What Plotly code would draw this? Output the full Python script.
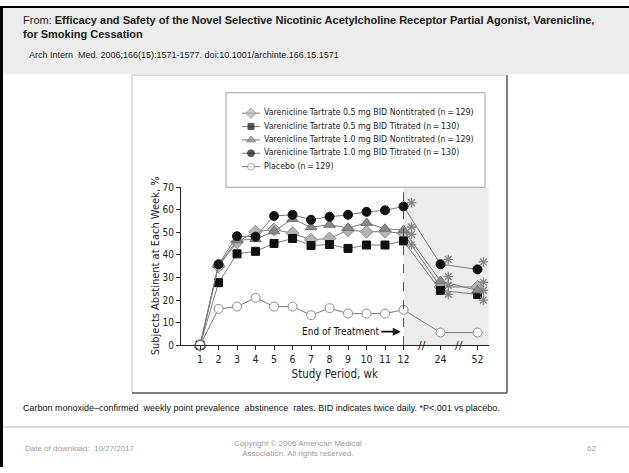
import plotly.graph_objects as go

# ---------------- data ----------------
weeks = ["1", "2", "3", "4", "5", "6", "7", "8", "9", "10", "11", "12", "24", "52"]
axis_categories = ["1", "2", "3", "4", "5", "6", "7", "8", "9", "10", "11", "12", " ", "24", "  ", "52"]
sig_weeks = ["12", "24", "52"]

v05_nontitrated = [0, 35.0, 45.7, 50.3, 51.3, 49.6, 46.7, 47.3, 51.0, 50.3, 50.3, 49.6, 25.8, 25.8]
v05_titrated = [0, 27.7, 40.5, 41.6, 45.1, 47.3, 44.2, 44.6, 42.9, 44.4, 44.4, 46.2, 24.3, 22.5]
v10_nontitrated = [0, 35.5, 46.5, 47.0, 50.5, 55.9, 52.3, 53.4, 52.0, 54.2, 51.6, 51.0, 28.4, 24.3]
v10_titrated = [0, 35.9, 48.3, 48.1, 57.3, 57.8, 55.6, 56.9, 57.8, 59.1, 59.8, 61.5, 35.9, 33.6]
placebo = [0, 16.1, 17.1, 21.0, 17.1, 17.1, 13.3, 16.4, 14.0, 14.0, 14.0, 15.7, 5.6, 5.6]

# heights (in % units) at which the "*P<.001" asterisks sit beside weeks 12, 24, 52
sig_v05_nontitrated = [49.1, 26.5, 27.9]
sig_v05_titrated = [44.5, 22.5, 20.0]
sig_v10_nontitrated = [52.4, 30.4, 24.3]
sig_v10_titrated = [63.2, 38.0, 36.9]

series_names = [
    "Varenicline Tartrate 0.5 mg BID Nontitrated (n\u2009=\u2009129)",
    "Varenicline Tartrate 0.5 mg BID Titrated (n\u2009=\u2009130)",
    "Varenicline Tartrate 1.0 mg BID Nontitrated (n\u2009=\u2009129)",
    "Varenicline Tartrate 1.0 mg BID Titrated (n\u2009=\u2009130)",
    "Placebo (n\u2009=\u2009129)",
]
y_ticks = [0, 10, 20, 30, 40, 50, 60, 70]

# ---------------- style ----------------
W, H = 629, 473
FONT = "Liberation Sans Narrow, DejaVu Sans Condensed, Arial Narrow, sans-serif"
SANS = "Liberation Sans, Arial, sans-serif"
LINE = "#7a7a7a"
STAR = "#858585"
X_RANGE = [-1.03, 15.6]


def px(x):
    return x / W


def py(y):
    return 1 - y / H


styles = [
    dict(symbol="diamond", size=10, color="#b4b4b4", lc="#8c8c8c"),
    dict(symbol="square", size=8, color="#111111", lc="#111111"),
    dict(symbol="triangle-up", size=10, color="#8a8a8a", lc="#6e6e6e"),
    dict(symbol="circle", size=9, color="#111111", lc="#111111"),
    dict(symbol="circle", size=9, color="#ffffff", lc="#8c8c8c"),
]
all_series = [v05_nontitrated, v05_titrated, v10_nontitrated, v10_titrated, placebo]
all_sig = [sig_v05_nontitrated, sig_v05_titrated, sig_v10_nontitrated, sig_v10_titrated]

fig = go.Figure()
for name, vals, st in zip(series_names, all_series, styles):
    fig.add_trace(go.Scatter(
        x=weeks, y=vals, name=name, mode="lines+markers", showlegend=False,
        line=dict(color=LINE, width=1),
        marker=dict(symbol=st["symbol"], size=st["size"], color=st["color"],
                    line=dict(color=st["lc"], width=1)),
        cliponaxis=False,
    ))

# significance asterisks, on a numeric twin of the category axis, nudged right of each point
sig_nudge = {"12": 0.43, "24": 0.42, "52": 0.32}
for sig in all_sig:
    fig.add_trace(go.Scatter(
        x=[axis_categories.index(w) + sig_nudge[w] for w in sig_weeks], y=sig,
        mode="markers", xaxis="x3", yaxis="y",
        marker=dict(symbol="asterisk-open", size=8, color=STAR, line=dict(color=STAR, width=1.3)),
        showlegend=False, hoverinfo="skip", cliponaxis=False,
    ))

# legend drawn on an auxiliary pixel-scaled axis pair inside the legend box
LEG_X0, LEG_X1, LEG_Y0, LEG_Y1 = 226, 485, 89, 186
row_first, row_step = 110, 13.7
for i, (name, st) in enumerate(zip(series_names, styles)):
    ry = row_first + row_step * i
    fig.add_trace(go.Scatter(
        x=[242 - LEG_X0, 251 - LEG_X0, 260 - LEG_X0], y=[ry, ry, ry],
        mode="lines+markers+text", text=["", "", "\u2002" + name], textposition="middle right",
        textfont=dict(family=FONT, size=8.8, color="#222222"),
        line=dict(color=LINE, width=1),
        marker=dict(symbol=st["symbol"], size=[0, st["size"] - 2, 0], color=st["color"],
                    line=dict(color=st["lc"], width=[0, 1, 0])),
        xaxis="x2", yaxis="y2", showlegend=False, hoverinfo="skip", cliponaxis=False,
    ))

i12 = axis_categories.index("12")
x_right = len(axis_categories) - 0.35

shapes = [
    dict(type="rect", xref="paper", yref="paper", x0=0, x1=1, y0=py(70), y1=1,
         fillcolor="#ececec", line=dict(width=0), layer="below"),
    dict(type="rect", xref="paper", yref="paper", x0=0, x1=1, y0=py(2), y1=1,
         fillcolor="#000000", line=dict(width=0)),
    dict(type="rect", xref="paper", yref="paper", x0=0, x1=px(3), y0=0, y1=1,
         fillcolor="#000000", line=dict(width=0)),
    dict(type="line", xref="paper", yref="paper", x0=px(132), x1=px(507), y0=py(71), y1=py(71),
         line=dict(color="#c4c4c4", width=1)),
    dict(type="line", xref="paper", yref="paper", x0=px(132), x1=px(132), y0=py(71), y1=py(397),
         line=dict(color="#c4c4c4", width=1)),
    dict(type="line", xref="paper", yref="paper", x0=px(507), x1=px(507), y0=py(71), y1=py(397),
         line=dict(color="#555555", width=1.5)),
    dict(type="line", xref="paper", yref="paper", x0=px(132), x1=px(507), y0=py(397), y1=py(397),
         line=dict(color="#555555", width=1.5)),
    dict(type="rect", xref="paper", yref="paper", x0=px(LEG_X0), x1=px(LEG_X1), y0=py(LEG_Y1), y1=py(LEG_Y0),
         line=dict(color="#a0a0a0", width=1), fillcolor="rgba(0,0,0,0)"),
    dict(type="rect", xref="x", yref="y", x0=i12, x1=x_right, y0=0, y1=71.5,
         fillcolor="#ececec", line=dict(width=0), layer="below"),
    dict(type="line", xref="x", yref="y", x0=i12, x1=i12, y0=0, y1=71.5,
         line=dict(color="#555555", width=1, dash="dash")),
    dict(type="line", xref="paper", yref="paper", x0=px(3), x1=1, y0=py(432), y1=py(432),
         line=dict(color="#cccccc", width=1.5)),
]

annotations = [
    dict(xref="paper", yref="paper", x=px(21), y=py(6), xanchor="left", yanchor="top", align="left",
         showarrow=False, font=dict(family=SANS, size=11, color="#1a1a1a"),
         text="From: <b>Efficacy and Safety of the Novel Selective Nicotinic Acetylcholine Receptor Partial Agonist, Varenicline,</b><br><b>for Smoking Cessation</b>"),
    dict(xref="paper", yref="paper", x=px(27), y=py(50), xanchor="left", yanchor="middle",
         showarrow=False, font=dict(family=SANS, size=9, color="#222222"),
         text="Arch Intern  Med. 2006;166(15):1571-1577. doi:10.1001/archinte.166.15.1571"),
    dict(xref="paper", yref="paper", x=px(21), y=py(412), xanchor="left", yanchor="middle",
         showarrow=False, font=dict(family=SANS, size=9, color="#111111"),
         text="Carbon monoxide\u2013confirmed  weekly point prevalence  abstinence  rates. BID indicates twice daily. *P<.001 vs placebo."),
    dict(xref="paper", yref="paper", x=px(23), y=py(454), xanchor="left", yanchor="middle",
         showarrow=False, font=dict(family=SANS, size=8, color="#9a9a9a"),
         text="Date of download:  10/27/2017"),
    dict(xref="paper", yref="paper", x=px(298), y=py(454), xanchor="center", yanchor="middle",
         showarrow=False, font=dict(family=SANS, size=8, color="#9a9a9a"),
         text="Copyright \u00a9 2006 American Medical<br>Association. All rights reserved."),
    dict(xref="paper", yref="paper", x=px(591), y=py(454), xanchor="center", yanchor="middle",
         showarrow=False, font=dict(family=SANS, size=8, color="#9a9a9a"), text="62"),
    dict(xref="x", yref="y", x=i12 - 0.15, y=6, ax=-60, ay=0, axref="pixel", ayref="pixel",
         text="End of Treatment", showarrow=True, arrowhead=2, arrowsize=1, arrowwidth=1.6,
         arrowcolor="#111111", font=dict(family=FONT, size=10, color="#111111")),
    dict(xref="paper", yref="paper", x=px(155), y=py(267), textangle=-90, showarrow=False,
         xanchor="center", yanchor="middle", text="Subjects Abstinent at Each Week, %",
         font=dict(family=FONT, size=11, color="#222222")),
]
# axis break marks
for cat in [" ", "  "]:
    annotations.append(dict(xref="x", yref="y", x=axis_categories.index(cat), y=0,
                            text="//", showarrow=False, xanchor="center", yanchor="middle",
                            font=dict(family="DejaVu Sans", size=11, color="#222222")))

x_domain = [px(181), px(200 + 18.5 * 15.6)]
fig.update_layout(
    width=W, height=H, margin=dict(l=0, r=0, t=0, b=0),
    paper_bgcolor="#ffffff", plot_bgcolor="rgba(0,0,0,0)",
    font=dict(family=FONT, size=10, color="#222222"),
    shapes=shapes, annotations=annotations, showlegend=False,
    xaxis=dict(type="category", categoryorder="array", categoryarray=axis_categories,
               tickvals=weeks, ticktext=weeks, range=X_RANGE,
               domain=x_domain, showgrid=False, zeroline=False,
               showline=True, linecolor="#222222", linewidth=1, ticks="outside", ticklen=4,
               tickcolor="#222222", tickfont=dict(size=10.5),
               title=dict(text="Study Period, wk", font=dict(size=11.5), standoff=6)),
    xaxis3=dict(type="linear", range=X_RANGE, domain=x_domain, overlaying="x", anchor="y",
                visible=False, fixedrange=True),
    yaxis=dict(range=[0, 70], domain=[py(348), py(186)], tickvals=y_ticks, showgrid=False,
               zeroline=False, showline=True, linecolor="#222222", linewidth=1,
               ticks="outside", ticklen=4, tickcolor="#222222", tickfont=dict(size=10)),
    xaxis2=dict(domain=[px(LEG_X0), px(LEG_X1)], range=[0, LEG_X1 - LEG_X0], anchor="y2",
                visible=False, fixedrange=True),
    yaxis2=dict(domain=[py(LEG_Y1), py(LEG_Y0)], range=[LEG_Y1, LEG_Y0], anchor="x2",
                visible=False, fixedrange=True),
)

fig.write_html("out.html")
